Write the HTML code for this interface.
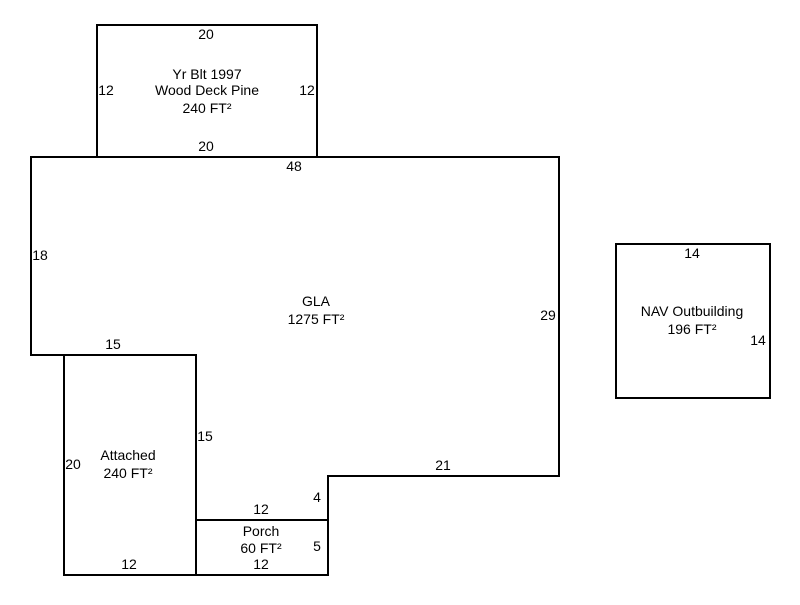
<!DOCTYPE html>
<html><head><meta charset="utf-8"><style>
html,body{margin:0;padding:0;background:#fff;}
svg text{font-family:"Liberation Sans",Arial,sans-serif;font-size:14px;fill:#000;}
</style></head><body>
<svg width="800" height="600" viewBox="0 0 800 600" xmlns="http://www.w3.org/2000/svg">
<g fill="none" stroke="#000" stroke-width="2">
<rect x="97" y="25" width="220" height="132"/>
<polygon points="31,157 559,157 559,476 328,476 328,520 196,520 196,355 31,355"/>
<rect x="64" y="355" width="132" height="220"/>
<rect x="196" y="520" width="132" height="55"/>
<rect x="616" y="244" width="154" height="154"/>
</g>
<g text-anchor="middle">
<text x="206" y="39">20</text>
<text x="106" y="95">12</text>
<text x="307" y="95">12</text>
<text x="207" y="79">Yr Blt 1997</text>
<text x="207" y="95">Wood Deck Pine</text>
<text x="207" y="113">240 FT²</text>
<text x="206" y="151">20</text>
<text x="294" y="171">48</text>
<text x="40" y="260">18</text>
<text x="316" y="306">GLA</text>
<text x="316" y="324">1275 FT²</text>
<text x="548" y="320">29</text>
<text x="113" y="349">15</text>
<text x="205" y="441">15</text>
<text x="73" y="469">20</text>
<text x="128" y="460">Attached</text>
<text x="128" y="478">240 FT²</text>
<text x="443" y="470">21</text>
<text x="317" y="502">4</text>
<text x="261" y="514">12</text>
<text x="261" y="536">Porch</text>
<text x="261" y="553">60 FT²</text>
<text x="317" y="551">5</text>
<text x="129" y="569">12</text>
<text x="261" y="569">12</text>
<text x="692" y="258">14</text>
<text x="692" y="316">NAV Outbuilding</text>
<text x="692" y="334">196 FT²</text>
<text x="758" y="345">14</text>
</g>
</svg>
</body></html>
